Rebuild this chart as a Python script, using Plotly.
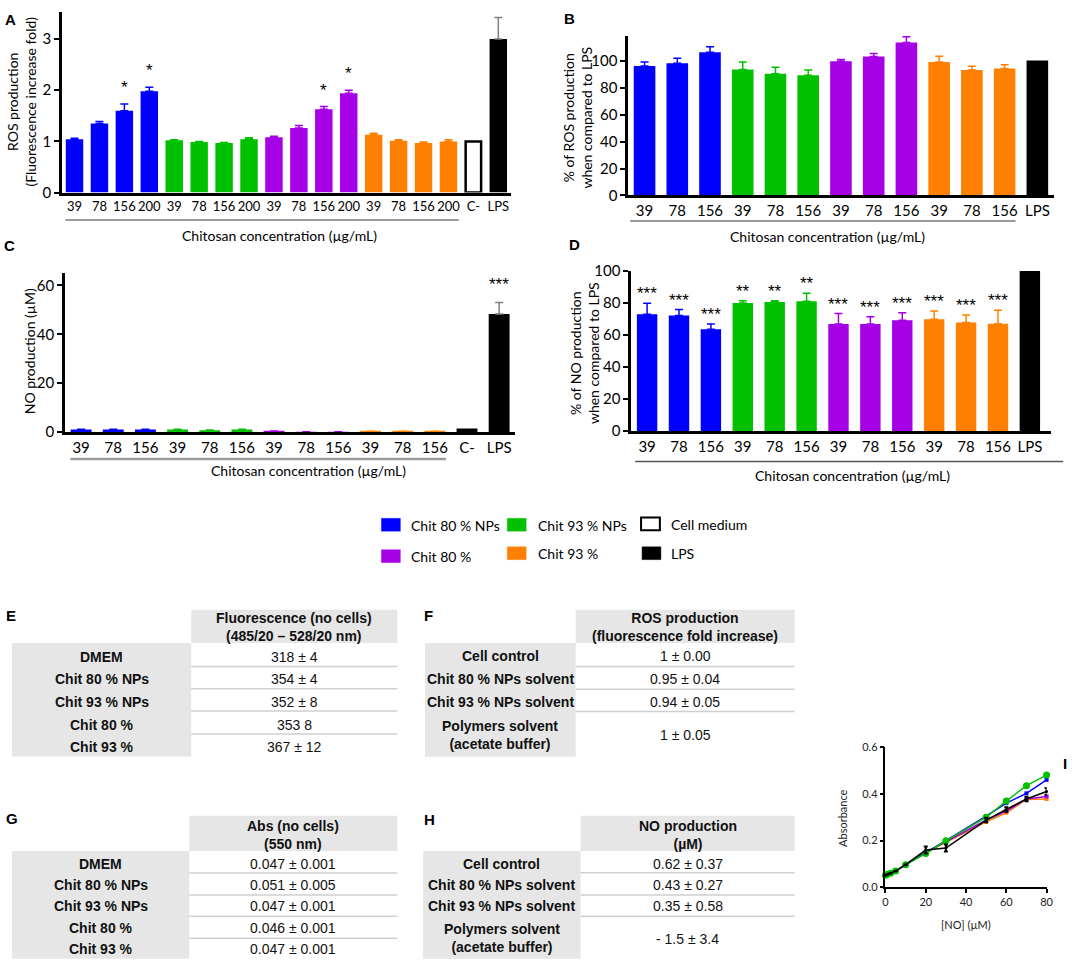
import plotly.graph_objects as go

W, H = 1084, 969
def X(px): return px / W
def Y(py): return 1 - py / H

CHART_FONT = "Lato, 'Noto Sans', sans-serif"
TICK_FONT = "Lato, sans-serif"
TABLE_FONT = "'Liberation Sans', Arial, sans-serif"
STAR_FONT = "'Liberation Sans', Arial, sans-serif"

BLUE = "#0000FF"; GREEN = "#00C000"; PURPLE = "#A500E6"; ORANGE = "#FF8000"; BLACK = "#000000"
GROUP_COLORS = [BLUE, GREEN, PURPLE, ORANGE]
GROUP_NAMES = ["Chit 80 % NPs", "Chit 93 % NPs", "Chit 80 %", "Chit 93 %"]

# ---------------- Panel A : ROS fold increase ----------------
A_ticks = ["39", "78", "156", "200"] * 4 + ["C-", "LPS"]
A_nps80 = [1.04, 1.35, 1.60, 1.98]; A_nps80_err = [0.02, 0.04, 0.13, 0.08]
A_nps93 = [1.02, 0.99, 0.97, 1.04]; A_nps93_err = [0.01, 0.01, 0.01, 0.03]
A_chit80 = [1.08, 1.26, 1.63, 1.94]; A_chit80_err = [0.02, 0.05, 0.05, 0.06]
A_chit93 = [1.13, 1.01, 0.97, 1.00]; A_chit93_err = [0.03, 0.02, 0.02, 0.03]
A_cneg = 1.00
A_lps = 3.00; A_lps_err = 0.42
A_sig = ["", "", "*", "*", "", "", "", "", "", "", "*", "*", "", "", "", "", "", ""]

# ---------------- Panel B : % ROS vs LPS ----------------
B_ticks = ["39", "78", "156"] * 4 + ["LPS"]
B_nps80 = [96.4, 98.3, 106.6]; B_nps80_err = [2.9, 3.7, 4.1]
B_nps93 = [93.7, 90.5, 89.5]; B_nps93_err = [5.6, 4.9, 3.9]
B_chit80 = [99.8, 103.4, 113.9]; B_chit80_err = [1.4, 2.2, 4.1]
B_chit93 = [99.3, 93.4, 94.4]; B_chit93_err = [4.3, 2.7, 2.9]
B_lps = 100.5; B_lps_err = 0.0
B_sig = [""] * 13

# ---------------- Panel C : NO production ----------------
C_ticks = ["39", "78", "156"] * 4 + ["C-", "LPS"]
C_nps80 = [1.0, 1.0, 1.0]; C_nps80_err = [0.1, 0.1, 0.1]
C_nps93 = [1.0, 0.7, 1.0]; C_nps93_err = [0.1, 0.1, 0.1]
C_chit80 = [0.4, 0.1, 0.1]; C_chit80_err = [0.05, 0.05, 0.05]
C_chit93 = [0.3, 0.3, 0.3]; C_chit93_err = [0.05, 0.05, 0.05]
C_cneg = 0.9
C_lps = 48.3; C_lps_err = 4.7
C_sig = [""] * 13 + ["***"]

# ---------------- Panel D : % NO vs LPS ----------------
D_ticks = ["39", "78", "156"] * 4 + ["LPS"]
D_nps80 = [73.0, 72.2, 63.6]; D_nps80_err = [6.8, 3.7, 3.3]
D_nps93 = [80.0, 80.6, 81.2]; D_nps93_err = [1.4, 0.8, 4.9]
D_chit80 = [66.9, 66.9, 69.3]; D_chit80_err = [6.5, 4.5, 4.7]
D_chit93 = [69.9, 67.9, 67.1]; D_chit93_err = [5.2, 4.7, 8.4]
D_lps = 100.0; D_lps_err = 0.0
D_sig = ["***"] * 3 + ["**"] * 3 + ["***"] * 6 + [""]

# ---------------- Panel I : standard curves ----------------
I_x = [0, 1, 2.5, 5, 10, 20, 30, 50, 60, 70, 80]
I_green = [0.052, 0.056, 0.060, 0.070, 0.097, 0.145, 0.199, 0.300, 0.369, 0.435, 0.480]
I_blue = [0.052, 0.056, 0.060, 0.070, 0.097, 0.147, 0.200, 0.305, 0.360, 0.402, 0.460]
I_purple = [0.052, 0.056, 0.060, 0.070, 0.097, 0.150, 0.195, 0.288, 0.326, 0.378, 0.389]
I_orange = [0.052, 0.056, 0.060, 0.070, 0.097, 0.148, 0.193, 0.280, 0.319, 0.376, 0.378]
I_black = [0.052, 0.056, 0.060, 0.070, 0.097, 0.160, 0.168, 0.288, 0.333, 0.378, 0.410]
I_black_err = [0, 0, 0, 0, 0, 0.015, 0.015, 0.010, 0.010, 0.010, 0.015]

# ---------------- Tables ----------------
E_header = "Fluorescence (no cells)<br>(485/20 – 528/20 nm)"
E_rows = ["DMEM", "Chit 80 % NPs", "Chit 93 % NPs", "Chit 80 %", "Chit 93 %"]
E_vals = ["318 ± 4", "354 ± 4", "352 ± 8", "353 8", "367 ± 12"]
F_header = "ROS production<br>(fluorescence fold increase)"
F_rows = ["Cell control", "Chit 80 % NPs solvent", "Chit 93 % NPs solvent", "Polymers solvent<br>(acetate buffer)"]
F_vals = ["1 ± 0.00", "0.95 ± 0.04", "0.94 ± 0.05", "1 ± 0.05"]
G_header = "Abs (no cells)<br>(550 nm)"
G_rows = ["DMEM", "Chit 80 % NPs", "Chit 93 % NPs", "Chit 80 %", "Chit 93 %"]
G_vals = ["0.047 ± 0.001", "0.051 ± 0.005", "0.047 ± 0.001", "0.046 ± 0.001", "0.047 ± 0.001"]
H_header = "NO production<br>(µM)"
H_rows = ["Cell control", "Chit 80 % NPs solvent", "Chit 93 % NPs solvent", "Polymers solvent<br>(acetate buffer)"]
H_vals = ["0.62 ± 0.37", "0.43 ± 0.27", "0.35 ± 0.58", "- 1.5 ± 3.4"]

LEGEND_ITEMS = [("Chit 80 % NPs", BLUE, BLUE), ("Chit 93 % NPs", GREEN, GREEN), ("Cell medium", "white", BLACK),
                ("Chit 80 %", PURPLE, PURPLE), ("Chit 93 %", ORANGE, ORANGE), ("LPS", BLACK, BLACK)]

fig = go.Figure()
annotations = []
shapes = []

def txt(x, y, text, size=14, bold=False, family=CHART_FONT, xanchor="center", yanchor="middle", angle=0, color="black"):
    annotations.append(dict(x=X(x), y=Y(y), xref="paper", yref="paper", text=(f"<b>{text}</b>" if bold else text),
                            showarrow=False, xanchor=xanchor, yanchor=yanchor, textangle=angle,
                            font=dict(family=family, size=size, color=color)))

def hline(x0, x1, y, color, width):
    shapes.append(dict(type="line", xref="paper", yref="paper", x0=X(x0), x1=X(x1), y0=Y(y), y1=Y(y),
                       line=dict(color=color, width=width)))

def rect(x0, x1, y0, y1, fill, line_color=None, line_width=0):
    shapes.append(dict(type="rect", xref="paper", yref="paper", x0=X(x0), x1=X(x1), y0=Y(y1), y1=Y(y0),
                       fillcolor=fill, line=dict(color=line_color or fill, width=line_width), layer="below"))

def add_bar_panel(k, groups, cneg, lps, lps_err, sig, width, lps_err_color, star_shift):
    xa = "x" if k == 1 else f"x{k}"
    ya = "y" if k == 1 else f"y{k}"
    pos = 0
    tops = []
    for g, (v, e) in enumerate(groups):
        xs = list(range(pos, pos + len(v)))
        fig.add_trace(go.Bar(x=xs, y=v, width=width, xaxis=xa, yaxis=ya, showlegend=False,
                             marker=dict(color=GROUP_COLORS[g], line=dict(width=0)),
                             error_y=dict(type="data", array=e, arrayminus=[0] * len(e), symmetric=False,
                                          color=GROUP_COLORS[g], thickness=1.5, width=4)))
        tops += [a + b for a, b in zip(v, e)]
        pos += len(v)
    if cneg is not None:
        fig.add_trace(go.Bar(x=[pos], y=[cneg], width=width - 0.08, xaxis=xa, yaxis=ya, showlegend=False,
                             marker=dict(color="white", line=dict(color="black", width=2.5))))
        tops.append(cneg)
        pos += 1
    fig.add_trace(go.Bar(x=[pos], y=[lps], width=width, xaxis=xa, yaxis=ya, showlegend=False,
                         marker=dict(color=BLACK, line=dict(width=0)),
                         error_y=dict(type="data", array=[lps_err], arrayminus=[0], symmetric=False,
                                      color=lps_err_color, thickness=1.5, width=4, visible=lps_err > 0)))
    tops.append(lps + lps_err)
    for i, s in enumerate(sig):
        if s:
            annotations.append(dict(x=i, y=tops[i], xref=xa, yref=ya, text=s, showarrow=False,
                                    yanchor="bottom", yshift=star_shift,
                                    font=dict(family=STAR_FONT, size=17, color="black")))

def bar_axes(k, xpx, ypx, xrange, yrange, ticktext, ytickvals, xtickfont=15, ytickfont=15):
    sfx = "" if k == 1 else str(k)
    fig.update_layout(**{
        f"xaxis{sfx}": dict(domain=[X(xpx[0]), X(xpx[1])], range=xrange, anchor=f"y{sfx}",
                            tickmode="array", tickvals=list(range(len(ticktext))), ticktext=ticktext,
                            ticks="", tickangle=0, showline=True, linewidth=2.5, linecolor="black", showgrid=False,
                            zeroline=False, tickfont=dict(size=xtickfont, color="black", family=TICK_FONT),
                            ticklabelstandoff=0, fixedrange=True),
        f"yaxis{sfx}": dict(domain=[Y(ypx[1]), Y(ypx[0])], range=yrange, anchor=f"x{sfx}",
                            tickmode="array", tickvals=ytickvals, ticks="outside", ticklen=5, tickwidth=2,
                            tickcolor="black", showline=True, linewidth=2.5, linecolor="black", showgrid=False,
                            zeroline=False, tickfont=dict(size=ytickfont, color="black", family=TICK_FONT),
                            fixedrange=True),
    })

# Panel A
add_bar_panel(1, [(A_nps80, A_nps80_err), (A_nps93, A_nps93_err), (A_chit80, A_chit80_err), (A_chit93, A_chit93_err)],
              A_cneg, A_lps, A_lps_err, A_sig, 0.70, "#808080", 5)
bar_axes(1, (59.6, 512.5), (2, 186), [-0.5, 17.5], [0, 3.53], A_ticks, [0, 1, 2, 3], xtickfont=13)
# Panel B
add_bar_panel(2, [(B_nps80, B_nps80_err), (B_nps93, B_nps93_err), (B_chit80, B_chit80_err), (B_chit93, B_chit93_err)],
              None, B_lps, B_lps_err, B_sig, 0.66, "#808080", 0)
bar_axes(2, (631, 1060.5), (26, 189), [-0.5, 12.5], [0, 119], B_ticks, [0, 20, 40, 60, 80, 100])
# Panel C
add_bar_panel(3, [(C_nps80, C_nps80_err), (C_nps93, C_nps93_err), (C_chit80, C_chit80_err), (C_chit93, C_chit93_err)],
              C_cneg, C_lps, C_lps_err, C_sig, 0.65, "#808080", 7)
bar_axes(3, (62.6, 517), (267.7, 430), [-0.5, 13.5], [0, 65.2], C_ticks, [0, 20, 40, 60])
# Panel D
add_bar_panel(4, [(D_nps80, D_nps80_err), (D_nps93, D_nps93_err), (D_chit80, D_chit80_err), (D_chit93, D_chit93_err)],
              None, D_lps, D_lps_err, D_sig, 0.64, "#808080", -2)
bar_axes(4, (634, 1058), (266, 429), [-0.5, 12.67], [0, 100], D_ticks, [0, 20, 40, 60, 80, 100])

# Panel I
for yv, col, sym, size in [(I_orange, ORANGE, "square", 4), (I_purple, PURPLE, "square", 4),
                            (I_blue, BLUE, "square", 4), (I_green, GREEN, "circle", 7)]:
    fig.add_trace(go.Scatter(x=I_x, y=yv, mode="lines+markers", xaxis="x5", yaxis="y5", showlegend=False,
                             cliponaxis=False, line=dict(color=col, width=1.5),
                             marker=dict(color=col, size=size, symbol=sym)))
fig.add_trace(go.Scatter(x=I_x, y=I_black, mode="lines+markers", xaxis="x5", yaxis="y5", showlegend=False,
                         cliponaxis=False, line=dict(color=BLACK, width=1.5),
                         marker=dict(color=BLACK, size=3),
                         error_y=dict(type="data", array=I_black_err, color=BLACK, thickness=2, width=2)))
fig.update_layout(
    xaxis5=dict(domain=[X(890.7), X(1053.3)], range=[0, 80], anchor="y5", tickvals=[0, 20, 40, 60, 80],
                ticks="outside", ticklen=4, tickwidth=1.5, tickcolor="black", showline=True, linewidth=1.5,
                linecolor="black", showgrid=False, zeroline=False,
                tickfont=dict(size=11, color="#222", family=CHART_FONT), fixedrange=True),
    yaxis5=dict(domain=[Y(894), Y(751)], range=[0, 0.6], anchor="x5", tickvals=[0, 0.2, 0.4, 0.6],
                ticktext=["0.0", "0.2", "0.4", "0.6"], ticks="outside", ticklen=4, tickwidth=1.5,
                tickcolor="black", showline=True, linewidth=1.5, linecolor="black", showgrid=False,
                zeroline=False, tickfont=dict(size=11, color="#222", family=CHART_FONT), fixedrange=True),
)

# Panel letters
for L, x, y in [("A", 8, 10), ("B", 572, 9), ("C", 7, 240), ("D", 577, 239), ("I", 1072, 768)]:
    txt(x, y, L, size=15, bold=True, family=TABLE_FONT)

# Axis titles
txt(18.5, 93, "ROS production<br>(Fluorescence increase fold)", size=14, angle=-90)
txt(580, 110, "% of ROS production<br>when compared to LPS", size=14, angle=-90)
txt(27, 348, "NO production (µM)", size=14, angle=-90)
txt(587, 350, "% of NO production<br>when compared to LPS", size=14, angle=-90)
txt(848, 823, "Absorbance", size=11, angle=-90, color="#222")
txt(971.7, 931.7, "[NO] (µM)", size=11, color="#222")

XTITLE = "Chitosan concentration (µg/mL)"
txt(279, 230, XTITLE, size=14)
txt(832, 231, XTITLE, size=14)
txt(308, 469, XTITLE, size=14)
txt(857, 474, XTITLE, size=14)
hline(63, 460, 214, "#9a9a9a", 2)
hline(633, 1022, 215, "#9a9a9a", 2)
hline(68, 447, 457.5, "#9a9a9a", 2.5)
hline(638, 1070, 460, "#555555", 1.5)

# Legend
leg_pos = [(382, 518, 410, 525), (509, 518, 538, 525), (644, 517, 672, 524),
           (382, 550, 410, 557), (509, 547, 538, 554), (645, 547, 672, 554)]
for (name, fill, edge), (sx, sy, tx, ty) in zip(LEGEND_ITEMS, leg_pos):
    shapes.append(dict(type="rect", xref="paper", yref="paper", x0=X(sx), x1=X(sx + 19), y0=Y(sy + 13), y1=Y(sy),
                       fillcolor=fill, line=dict(color=edge, width=2 if fill == "white" else 0.5)))
    txt(tx, ty, name, size=14, xanchor="left")

# Tables
def draw_table(letter, lxy, x0, x1, x2, hy0, hy1, bottom, header, header_y, rows, row_y, vals, val_y, seps):
    txt(lxy[0], lxy[1], letter, size=15, bold=True, family=TABLE_FONT)
    rect(x1, x2, hy0, hy1, "#E6E6E6")
    rect(x0, x1, hy1, bottom, "#E6E6E6")
    for s in seps:
        hline(x1, x2, s, "#CFCFCF", 1.5)
    txt((x1 + x2) / 2, header_y, header, size=14, bold=True, family=TABLE_FONT, color="#111")
    for r, ry in zip(rows, row_y):
        txt((x0 + x1) / 2, ry, r, size=14, bold=True, family=TABLE_FONT, color="#111")
    for v, vy in zip(vals, val_y):
        txt((x1 + x2) / 2, vy, v, size=14, family=TABLE_FONT, color="#111")

draw_table("E", (8.5, 617), 9, 190, 398, 611, 645, 760.7, E_header, 629,
           E_rows, [659.3, 681.7, 705, 728.3, 751], E_vals, [659.3, 681.7, 705, 728.3, 751],
           [669, 691.7, 714.3, 737.7])
draw_table("F", (429, 617), 426, 578, 799, 611, 645, 761, F_header, 629,
           F_rows, [658, 681.7, 705, 738.5], F_vals, [658, 681.7, 705, 739], [669, 692, 714.7])
draw_table("G", (9, 824), 9, 188, 398, 821, 857, 966.7, G_header, 841,
           G_rows, [870, 891.7, 913.3, 935, 956.7], G_vals, [870, 891.7, 913.3, 935, 956.7],
           [879.3, 901.7, 923.3, 945.7])
draw_table("H", (430, 825), 424, 583, 799, 821, 857, 966.7, H_header, 840.5,
           H_rows, [870, 891.7, 913.3, 946], H_vals, [870, 891.7, 913.3, 947], [879, 901.7, 923.3])

fig.update_layout(width=W, height=H, margin=dict(l=0, r=0, t=0, b=0), autosize=False,
                  paper_bgcolor="white", plot_bgcolor="white", barmode="overlay",
                  font=dict(family=CHART_FONT, color="black"),
                  annotations=annotations, shapes=shapes, showlegend=False)

fig.write_html("out.html", config={"displayModeBar": False},
               post_script="document.body.style.margin='0px';")
